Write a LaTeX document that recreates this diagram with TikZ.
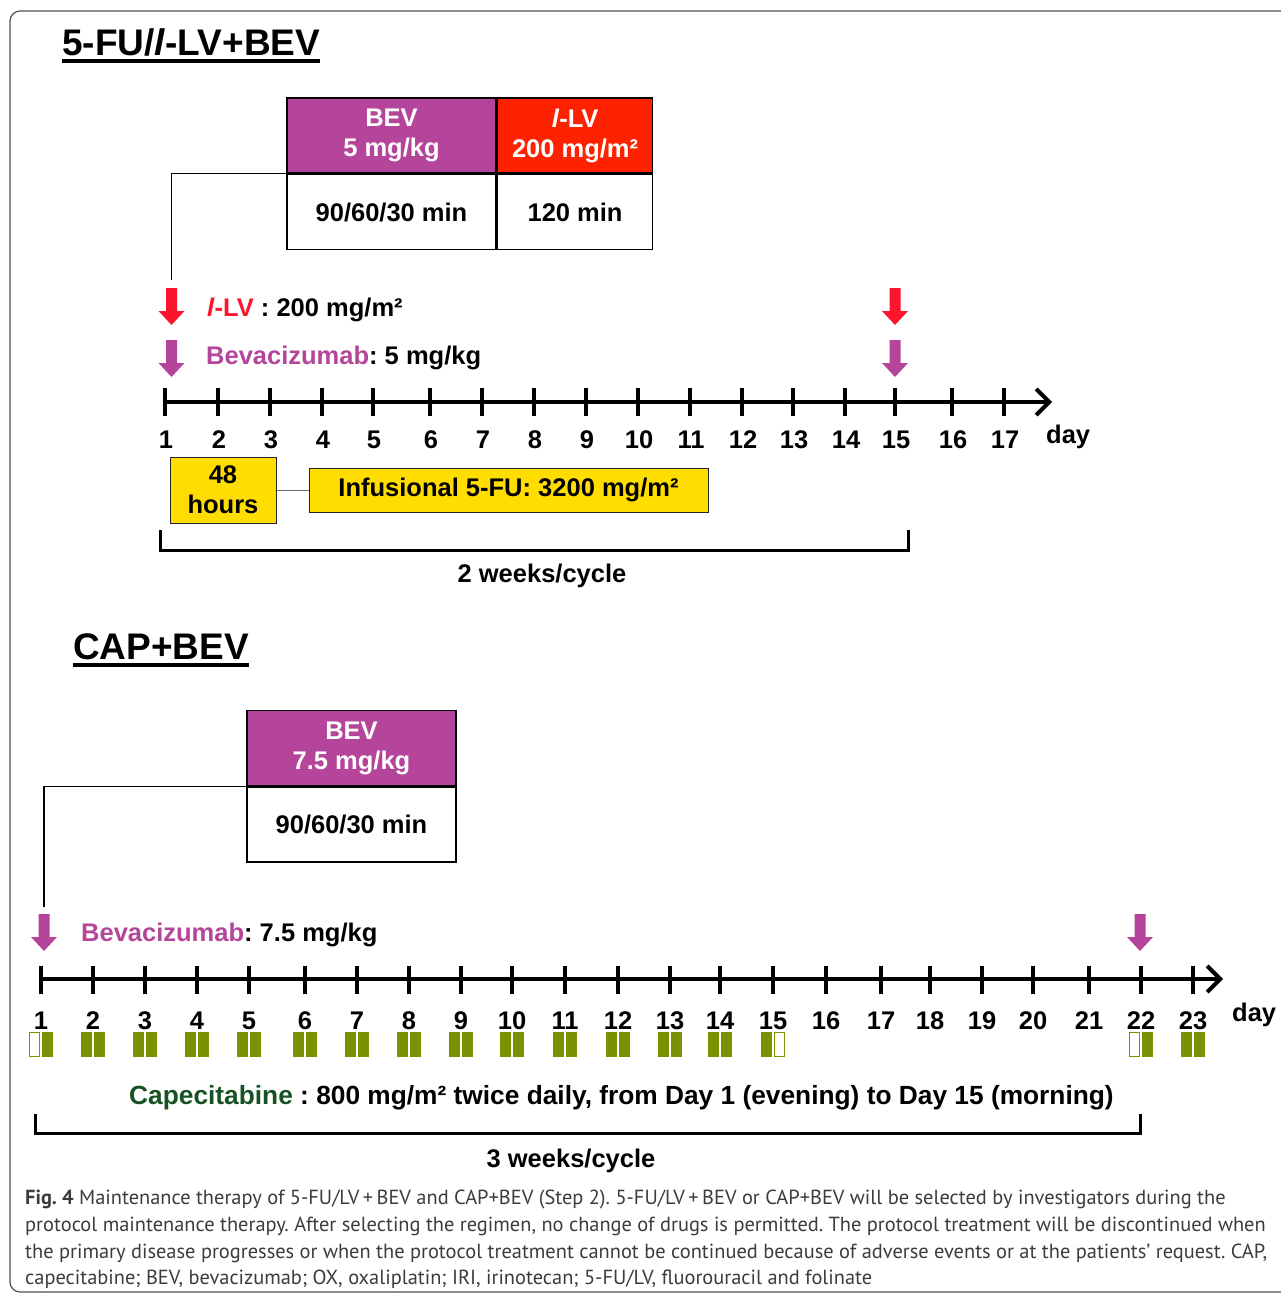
\documentclass[tikz,border=0pt]{standalone}
\usepackage{fontspec}
\setmainfont{Liberation Sans}
\newfontfamily\capfont{PT Sans}
\usetikzlibrary{arrows.meta}
\frenchspacing

\definecolor{bevpurple}{RGB}{181,69,155}
\definecolor{lvred}{RGB}{255,34,0}
\definecolor{arrowred}{RGB}{255,20,45}
\definecolor{fuyellow}{RGB}{255,221,0}
\definecolor{capgreen}{RGB}{122,146,0}
\definecolor{capdark}{RGB}{22,82,36}
\definecolor{framegray}{RGB}{80,80,80}
\definecolor{captext}{RGB}{60,60,60}

\newcommand{\bigbold}{\fontsize{25.5}{30}\selectfont\bfseries}
\newcommand{\titlebold}{\fontsize{37}{40}\selectfont\bfseries}

\tikzset{
  txt/.style={font=\bigbold, inner sep=0pt},
  headbox/.style={draw, line width=1.6pt, minimum height=75pt, align=center,
    text=white, font=\bigbold, inner sep=0pt},
  timebox/.style={draw, line width=1.6pt, fill=white, minimum height=75pt,
    font=\bigbold, inner sep=0pt},
  yellowbox/.style={draw=black!85, line width=1pt, fill=fuyellow, align=center,
    font=\bigbold, inner sep=0pt},
  axisline/.style={line width=4pt, -{Straight Barb[length=13pt,width=26pt]}},
  tickmark/.style={line width=3.5pt},
  bracket/.style={line width=3pt},
  daylabel/.style={txt, anchor=base},
  captionline/.style={anchor=base west, inner sep=0pt, text=captext,
    font=\capfont\fontsize{20.4}{26.7}\selectfont},
  dosearrow/.pic={
    \path[pic actions] (-5.5,0) -- (5.5,0) -- (5.5,23) -- (13,23) -- (0,37)
      -- (-13,23) -- (-5.5,23) -- cycle;
  }
}

\begin{document}
\begin{tikzpicture}[x=1pt,y=-1pt]
  \useasboundingbox (0,0) rectangle (1281,1295);
  \clip (0,0) rectangle (1281,1295);
  \fill[white] (0,0) rectangle (1281,1295);
  % outer frame
  \draw[framegray, line width=1.2pt, rounded corners=10pt] (10,11) rectangle (1300,1292);

  % ---- 5-FU/l-LV+BEV ----
  \node[inner sep=0pt, font=\titlebold, anchor=base west] (title1) at (62,56) {5-FU/\textit{l}-LV+BEV};
  \draw[line width=3.5pt] ([yshift=-5pt]title1.base west) -- ([yshift=-5pt]title1.base east);

  \node[headbox, fill=bevpurple, minimum width=209pt] (bev1) at (391.5,135.5) {BEV\\5 mg/kg};
  \node[headbox, fill=lvred, minimum width=155pt, anchor=west] (lv1) at (bev1.east) {\textit{l}-LV\\200 mg/m²};
  \node[timebox, minimum width=209pt, anchor=north] (bevt1) at (bev1.south) {90/60/30 min};
  \node[timebox, minimum width=155pt, anchor=north] (lvt1) at (lv1.south) {120 min};
  \coordinate (bevdrop1) at (171.5,280);
  \draw[line width=1.2pt] (bevt1.north west) -| (bevdrop1);

  % dose arrows
  \pic[fill=arrowred] at (171.5,288) {dosearrow};
  \pic[fill=bevpurple] at (171.5,340) {dosearrow};
  \pic[fill=arrowred] at (895,288) {dosearrow};
  \pic[fill=bevpurple] at (895,340) {dosearrow};
  \node[txt, anchor=base west] (lvlab) at (207,316) {\textcolor{arrowred}{\textit{l}-LV} : 200 mg/m²};
  \node[txt, anchor=base west] (bevlab1) at (206,364) {\textcolor{bevpurple}{Bevacizumab}: 5 mg/kg};

  % day axis
  \coordinate (ax1s) at (165,402);
  \coordinate (ax1e) at (1052,402);
  \draw[axisline] (ax1s) -- (ax1e);
  \foreach \x [count=\d] in {165,218,270,322,373,430,482,534,586,638,690,742,793,845,895,952,1004} {
    \draw[tickmark] (\x,388) -- (\x,416);
    \node[daylabel] (da\d) at (\x+1,448) {\d};
  }
  \node[txt, anchor=base west] (dayA) at (1046,443) {day};

  % 5-FU infusion
  \node[yellowbox, minimum width=106pt, minimum height=66pt] (h48) at (223,490) {48\\hours};
  \node[yellowbox, minimum width=399pt, minimum height=44pt] (fu) at (508.5,490) {Infusional 5-FU: 3200 mg/m²};
  \draw[black!60, line width=1pt] (h48) -- (fu);

  \coordinate (br1a) at (160,530);
  \coordinate (br1b) at (908,530);
  \draw[bracket] (br1a) -- ++(0,20) -| (br1b);
  \node[txt, anchor=base] (cyc1) at (542,582) {2 weeks/cycle};

  % ---- CAP+BEV ----
  \node[inner sep=0pt, font=\titlebold, anchor=base west] (title2) at (73,659) {CAP+BEV};
  \draw[line width=3.5pt] ([yshift=-6pt]title2.base west) -- ([yshift=-6pt]title2.base east);

  \node[headbox, fill=bevpurple, minimum width=209pt] (bev2) at (351.5,748) {BEV\\7.5 mg/kg};
  \node[timebox, minimum width=209pt, anchor=north] (bevt2) at (bev2.south) {90/60/30 min};
  \coordinate (bevdrop2) at (44,907);
  \draw[line width=1.2pt] (bevt2.north west) -| (bevdrop2);

  \pic[fill=bevpurple] at (44,914) {dosearrow};
  \pic[fill=bevpurple] at (1140,914) {dosearrow};
  \node[txt, anchor=base west] (bevlab2) at (81,941) {\textcolor{bevpurple}{Bevacizumab}: 7.5 mg/kg};

  \coordinate (ax2s) at (40,979);
  \coordinate (ax2e) at (1223,979);
  \draw[axisline] (ax2s) -- (ax2e);
  \foreach \x [count=\d] in {41,93,145,197,249,305,357,409,461,512,565,618,670,720,773,826,881,930,982,1033,1089,1141,1193} {
    \draw[tickmark] (\x,966) -- (\x,994);
    \node[daylabel] (db\d) at (\x,1029) {\d};
  }
  \node[txt, anchor=base west] (dayB) at (1232,1021) {day};

  % capecitabine tablets, morning / evening
  \foreach \c in {93,145,197,249,305,357,409,461,512,565,618,670,720,1193} {
    \fill[capgreen] (\c-12,1032) rectangle (\c-1,1057);
    \fill[capgreen] (\c+1,1032) rectangle (\c+12,1057);
  }
  \foreach \c in {41,1141} {
    \draw[capgreen, fill=white, line width=1.2pt] (\c-11.4,1032.6) rectangle (\c-1.6,1056.4);
    \fill[capgreen] (\c+1,1032) rectangle (\c+12,1057);
  }
  \fill[capgreen] (761,1032) rectangle (772,1057);
  \draw[capgreen, fill=white, line width=1.2pt] (774.6,1032.6) rectangle (784.4,1056.4);

  \node[txt, anchor=base, font=\fontsize{26.3}{30}\selectfont\bfseries] (capdose) at (621.5,1104) {\textcolor{capdark}{Capecitabine} : 800 mg/m² twice daily, from Day 1 (evening) to Day 15 (morning)};

  \coordinate (br2a) at (35,1114);
  \coordinate (br2b) at (1140,1114);
  \draw[bracket] (br2a) -- ++(0,19) -| (br2b);
  \node[txt, anchor=base] (cyc2) at (571,1167) {3 weeks/cycle};

  % caption
  \node[captionline] (cap1) at (25,1204) {\textbf{Fig. 4} Maintenance therapy of 5-FU/LV\,+\,BEV and CAP+BEV (Step 2). 5-FU/LV\,+\,BEV or CAP+BEV will be selected by investigators during the};
  \node[captionline] (cap2) at (25,1231) {protocol maintenance therapy. After selecting the regimen, no change of drugs is permitted. The protocol treatment will be discontinued when};
  \node[captionline] (cap3) at (25,1258) {the primary disease progresses or when the protocol treatment cannot be continued because of adverse events or at the patients’ request. CAP,};
  \node[captionline] (cap4) at (25,1284) {capecitabine; BEV, bevacizumab; OX, oxaliplatin; IRI, irinotecan; 5-FU/LV, fluorouracil and folinate};
\end{tikzpicture}
\end{document}
